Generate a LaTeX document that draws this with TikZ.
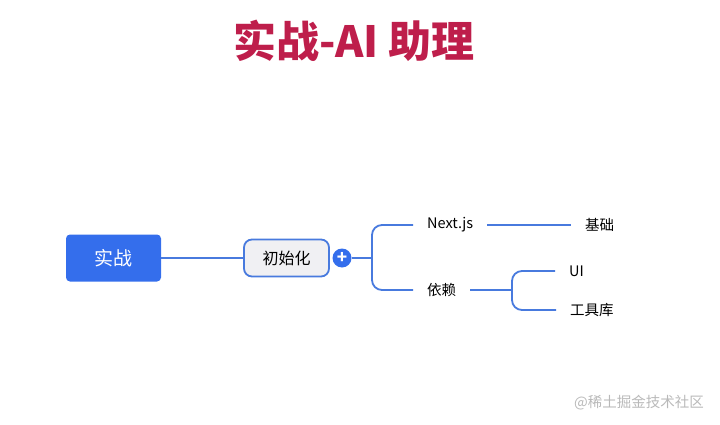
\documentclass[tikz,border=0pt]{standalone}
\usepackage{fontspec}
\setmainfont{Noto Sans CJK SC}
\definecolor{titlered}{RGB}{190, 30, 75}
\definecolor{mapblue}{RGB}{52, 110, 236}
\definecolor{linkblue}{RGB}{72, 122, 222}
\definecolor{boxgray}{RGB}{240, 240, 243}
\usetikzlibrary{positioning}

\begin{document}
\begin{tikzpicture}[
  x=1pt, y=-1pt,
  topic/.style={rounded corners=4pt, fill=mapblue, text=white, font=\fontsize{19}{21}\selectfont, minimum width=95pt, minimum height=47pt, inner sep=0pt},
  sub/.style={rounded corners=8pt, fill=boxgray, draw=linkblue, line width=1.8pt, font=\fontsize{16}{18}\selectfont, minimum width=85pt, minimum height=37pt, inner sep=0pt},
  leaf/.style={font=\fontsize{14.5}{16}\selectfont, inner xsep=14pt, inner ysep=2pt, anchor=west},
  link/.style={draw=linkblue, line width=1.8pt},
]
\useasboundingbox (0,0) rectangle (720,425);

% Title
\node[font=\fontsize{43}{47}\selectfont\bfseries, text=titlered] (title) at (354, 41) {实战-AI 助理};

% Root and first level
\node[topic] (root) at (113.5, 258) {实战};
\node[sub] (init) at (286.5, 258) {初始化};
\node[circle, fill=mapblue, text=white, minimum size=19pt, inner sep=0pt, font=\fontsize{17}{17}\selectfont\bfseries] (plus) at (342, 258) {+};
\draw[link] (root.east) -- (init.west);

% Second level
\coordinate (fork) at (372, 258);
\node[leaf] (nextjs) at (413, 225) {Next.js};
\node[leaf] (deps) at (413, 290) {依赖};
\draw[link] (plus) -- (fork);
\draw[link, rounded corners=10pt] (nextjs.west) -| (fork) |- (deps.west);

% Third level
\node[leaf] (base) at (571, 225) {基础};
\draw[link] (nextjs) -- (base);

\coordinate (subfork) at (512, 290);
\node[leaf] (ui) at (555, 271) {UI};
\node[leaf] (tools) at (556, 310) {工具库};
\draw[link] (deps) -- (subfork);
\draw[link, rounded corners=10pt] (ui.west) -| (subfork) |- (tools.west);

% Watermark
\node[font=\fontsize{14.5}{16}\selectfont, text=gray!55] (mark) at (639, 403) {@稀土掘金技术社区};
\end{tikzpicture}
\end{document}
